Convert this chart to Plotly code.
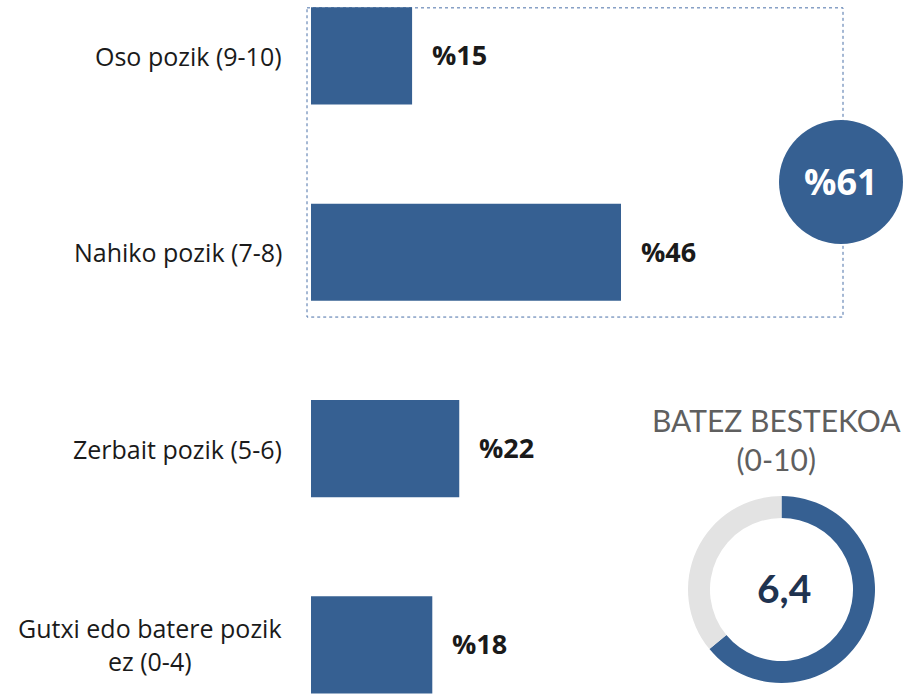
import plotly.graph_objects as go

# Satisfaction levels (top to bottom) and their shares in percent
categories = ["Oso pozik (9-10)", "Nahiko pozik (7-8)", "Zerbait pozik (5-6)",
              "Gutxi edo batere pozik<br>ez (0-4)"]
shares = [15, 46, 22, 18]

# Average score on a 0-10 scale
mean_score = 6.4
scale_max = 10

BLUE = "#366092"
GREY_RING = "#e3e3e3"
W, H = 904, 694

positions = list(range(len(categories)))
satisfied = shares[0] + shares[1]

fig = go.Figure()

fig.add_trace(go.Bar(
    x=shares, y=positions, orientation="h",
    marker=dict(color=BLUE, line=dict(width=0)),
    width=0.495, hoverinfo="skip", showlegend=False,
    xaxis="x", yaxis="y",
))

# Donut with the average score
fig.add_trace(go.Pie(
    values=[mean_score, scale_max - mean_score],
    marker=dict(colors=[BLUE, GREY_RING], line=dict(width=0)),
    hole=0.765, sort=False, direction="clockwise", rotation=0,
    textinfo="none", hoverinfo="skip", showlegend=False,
    domain=dict(x=[688 / W, 875 / W], y=[11 / H, 198 / H]),
))

annotations = []
# Category labels, right-aligned against the bars, centred lines
for pos, cat in zip(positions, categories):
    annotations.append(dict(
        x=284 / W, xref="paper", y=pos, yref="y", text=cat,
        xanchor="right", yanchor="middle", align="center", showarrow=False,
        font=dict(family="Open Sans", size=25, color="#1a1a1a"),
    ))
# Value labels after each bar
for pos, v in zip(positions, shares):
    annotations.append(dict(
        x=v, xref="x", y=pos, yref="y", text=f"%{v}",
        xanchor="left", yanchor="middle", xshift=18, yshift=1, showarrow=False,
        font=dict(family="Open Sans", size=27, color="#1a1a1a", weight="bold"),
    ))

# Combined share of the two top categories inside a circle
cx, cy, r = 841, 182, 62
annotations.append(dict(
    x=cx / W, y=1 - cy / H, xref="paper", yref="paper", text=f"%{satisfied}",
    showarrow=False, xanchor="center", yanchor="middle",
    font=dict(family="Open Sans", size=36, color="white", weight="bold"),
))
annotations.append(dict(
    x=776 / W, y=1 - 439 / H, xref="paper", yref="paper",
    text="BATEZ BESTEKOA<br>(0-10)", showarrow=False,
    xanchor="center", yanchor="middle", align="center",
    font=dict(family="Lato", size=30, color="#5f5f5f"),
))
annotations.append(dict(
    x=784 / W, y=1 - 588 / H, xref="paper", yref="paper",
    text=f"{mean_score:.1f}".replace(".", ","), showarrow=False,
    xanchor="center", yanchor="middle",
    font=dict(family="Lato", size=39, color="#1f3350", weight="bold"),
))

shapes = [
    # dotted frame around the two satisfied categories
    dict(type="rect", xref="paper", yref="y",
         x0=307 / W, x1=843 / W, y0=-0.245, y1=1.33,
         line=dict(color="#4a70a8", width=1, dash="dot"), layer="below"),
    dict(type="circle", xref="paper", yref="paper",
         x0=(cx - r) / W, x1=(cx + r) / W, y0=1 - (cy + r) / H, y1=1 - (cy - r) / H,
         fillcolor=BLUE, line=dict(width=0), layer="above"),
]

fig.update_layout(
    width=W, height=H,
    margin=dict(l=0, r=0, t=0, b=0),
    paper_bgcolor="white", plot_bgcolor="white",
    xaxis=dict(domain=[311 / W, 1], range=[0, 593 / (310 / 46)],
               visible=False, fixedrange=True),
    yaxis=dict(domain=[0, 1], range=[3.25, -0.285], visible=False, fixedrange=True),
    annotations=annotations,
    shapes=shapes,
)

fig.write_html("out.html")
